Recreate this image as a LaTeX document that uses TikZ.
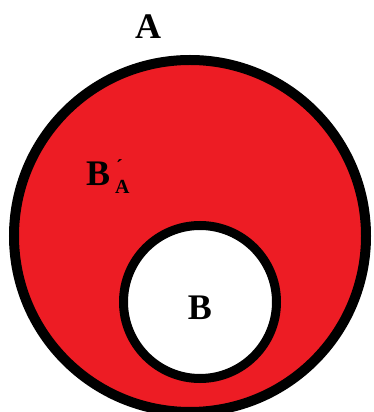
\documentclass[tikz,border=0pt]{standalone}
\usepackage{fontspec}
\setmainfont{Liberation Serif}[BoldFont={Liberation Serif Bold}]
\definecolor{paintred}{RGB}{237,28,36}
\begin{document}
\begin{tikzpicture}[x=1pt,y=1pt,
  ring/.style={draw=black,line width=10pt},
  innerring/.style={draw=black,line width=9pt},
  lbl/.style={font=\bfseries\fontsize{36}{40}\selectfont,inner sep=0pt,text=black}]
\useasboundingbox (0,0) rectangle (373,412);
\fill[white] (0,0) rectangle (373,412);
% outer set A
\draw[ring,fill=paintred] (190,176) circle (176);
% inner set B
\draw[innerring,fill=white] (200,110) circle (76.5);
\node[lbl] (labA) at (148,385) {A};
\node[lbl] (labB) at (200,104) {B};
\node[lbl,anchor=base west] (labBc) at (86,226)
  {B\kern5pt{\fontsize{20}{24}\selectfont\rlap{\kern1pt\raisebox{12pt}{´}}\raisebox{-8pt}{A}}};
\end{tikzpicture}
\end{document}
